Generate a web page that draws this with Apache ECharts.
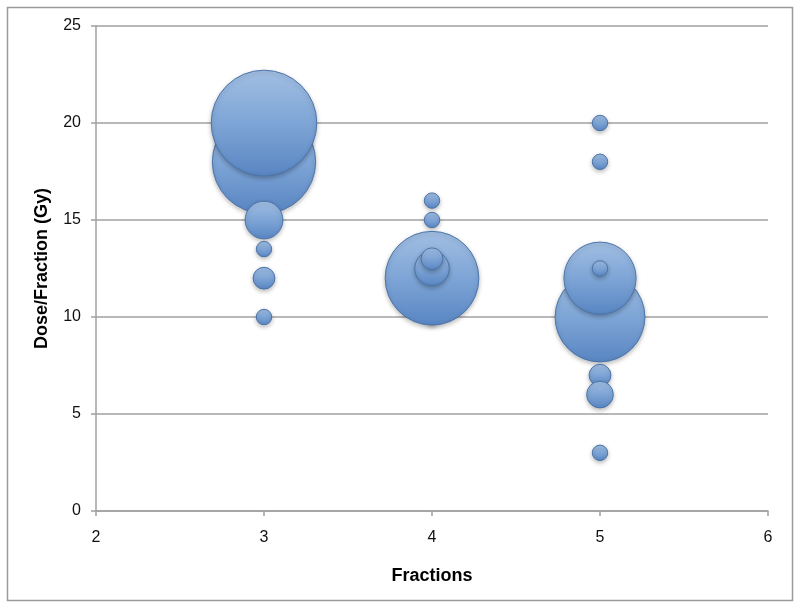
<!DOCTYPE html>
<html>
<head>
<meta charset="utf-8">
<script src="https://cdn.jsdelivr.net/npm/echarts@6/dist/echarts.min.js"></script>
<style>
html,body{margin:0;padding:0;background:#fff;}
#c{width:800px;height:609px;}
</style>
</head>
<body>
<div id="c"></div>
<script>
// Data listed in drawing order (later points drawn on top)
var fractions = [3, 3, 3, 3, 3, 3, 4, 4, 4, 4, 4, 4, 5, 5, 5, 5, 5, 5, 5, 5];
var dosePerFraction = [18, 20, 15, 13.5, 12, 10, 16, 15, 10, 12, 12.5, 13, 20, 18, 10, 12, 12.5, 7, 6, 3];
var bubbleSizes = [45, 47, 6, 1, 2, 1, 1, 1, 1, 37, 5, 2, 1, 1, 34, 22, 1, 2, 3, 1];
var xTicks = [2, 3, 4, 5, 6];
var yTicks = [0, 5, 10, 15, 20, 25];

var points = fractions.map(function (f, i) { return [f, dosePerFraction[i], bubbleSizes[i]]; });

var chart = echarts.init(document.getElementById('c'), null, {renderer: 'canvas'});
var font = '"Liberation Sans", Arial, sans-serif';
chart.setOption({
  animation: false,
  backgroundColor: '#ffffff',
  graphic: [{
    type: 'rect', z: -10,
    shape: {x: 7.5, y: 7.5, width: 785, height: 593},
    style: {fill: 'none', stroke: '#9a9a9a', lineWidth: 1.5}
  }],
  grid: {left: 96, right: 32, top: 26, bottom: 98, containLabel: false},
  xAxis: {
    type: 'value', min: xTicks[0], max: xTicks[xTicks.length - 1], interval: 1,
    name: 'Fractions', nameLocation: 'middle', nameGap: 56,
    nameTextStyle: {fontFamily: font, fontSize: 18, fontWeight: 'bold', color: '#000'},
    axisLine: {show: true, lineStyle: {color: '#a0a0a0', width: 1.5}},
    axisTick: {show: true, length: 5, lineStyle: {color: '#a0a0a0', width: 1.5}},
    axisLabel: {fontFamily: font, fontSize: 16, color: '#111', margin: 19},
    splitLine: {show: false}
  },
  yAxis: {
    type: 'value', min: yTicks[0], max: yTicks[yTicks.length - 1], interval: 5,
    name: 'Dose/Fraction (Gy)', nameLocation: 'middle', nameGap: 45, nameRotate: 90,
    nameTextStyle: {fontFamily: font, fontSize: 18, fontWeight: 'bold', color: '#000'},
    axisLine: {show: true, lineStyle: {color: '#a0a0a0', width: 1.5}},
    axisTick: {show: true, length: 5, lineStyle: {color: '#a0a0a0', width: 1.5}},
    axisLabel: {fontFamily: font, fontSize: 16, color: '#111', margin: 15, padding: [6, 0, 0, 0]},
    splitLine: {show: true, lineStyle: {color: '#a0a0a0', width: 1.5}}
  },
  series: [{
    type: 'scatter',
    data: points,
    symbol: 'circle',
    symbolSize: function (v) { return 15.4 * Math.sqrt(v[2]); },
    itemStyle: {
      color: new echarts.graphic.LinearGradient(0, 0, 0, 1, [
        {offset: 0, color: '#a2bfe3'},
        {offset: 0.5, color: '#7ea5d6'},
        {offset: 1, color: '#5885c2'}
      ]),
      borderColor: '#4a74aa',
      borderWidth: 1,
      opacity: 1,
      shadowColor: 'rgba(0,0,0,0.25)',
      shadowBlur: 4,
      shadowOffsetY: 2
    }
  }]
});
</script>
</body>
</html>
